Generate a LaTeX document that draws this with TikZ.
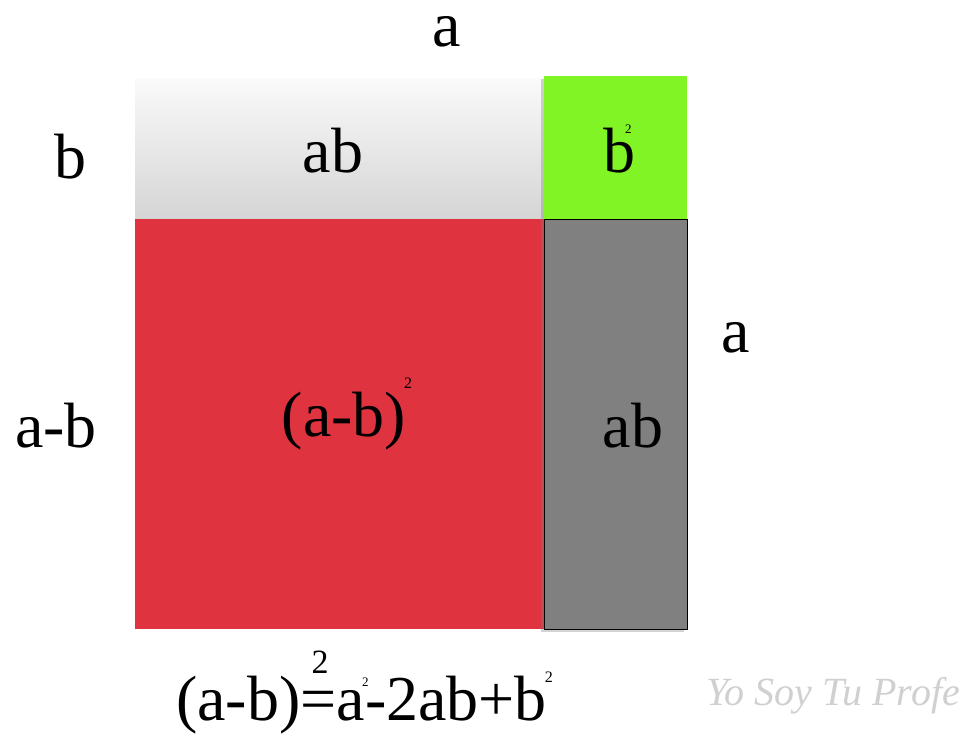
\documentclass[tikz,border=0pt]{standalone}
\usepackage{fontspec}
\setmainfont{Liberation Serif}
\usetikzlibrary{shadows}
\definecolor{minus}{HTML}{DF333F}
\definecolor{square}{HTML}{80F424}
\definecolor{strip}{HTML}{808080}
\definecolor{shadetop}{HTML}{FAFAFA}
\definecolor{shadebot}{HTML}{D5D5D5}
\definecolor{stamp}{HTML}{D0D0D0}
\newcommand{\pw}[2]{\raisebox{#1}{\fontsize{#2}{#2}\selectfont 2}}

\begin{document}
\begin{tikzpicture}[
  x=1pt,y=-1pt,
  font=\fontsize{64}{70}\selectfont,
  cell/.style={draw=none, inner sep=0pt, anchor=north west},
  shade/.style={drop shadow={opacity=0.35, shadow xshift=-3pt, shadow yshift=-3pt}},
  lbl/.style={anchor=base, inner sep=0pt}
]
\useasboundingbox (0,0) rectangle (968,733);

% Boxes
\node[cell, minimum width=409pt, minimum height=141pt,
  top color=shadetop, bottom color=shadebot] (top) at (135,78) {};
\node[cell, fill=minus, minimum width=409pt, minimum height=410pt] (red) at (135,219) {};
\node[cell, shade, fill=square, minimum width=143pt, minimum height=143pt] (green) at (544,76) {};
\node[cell, shade, fill=strip, draw=black, line width=0.8pt,
  minimum width=143pt, minimum height=410pt] (gray) at (544,219) {};

% Side labels
\node[lbl, text height=0.5em] (topa) at (447,47) {a};
\node[lbl] (leftb) at (70,178) {b};
\node[lbl] (leftab) at (56,447) {a-b};
\node[lbl] (righta) at (736,352) {a};

% Areas
\node[lbl] (abtop) at (333,172) {ab};
\node[lbl] (bsq) at (619,172) {b\rlap{\kern-10pt\pw{0.6em}{13}}};
\node[lbl] (diffsq) at (344,436) {(a-b)\rlap{\kern-2pt\pw{0.75em}{16}}};
\node[lbl] (abgray) at (633,447) {ab};

% Formula
\node[anchor=base west, inner sep=0pt] (formula) at (176,720)
  {(a-b)\rlap{\kern11pt\pw{0.73em}{34}}=a\rlap{\kern-3pt\pw{0.52em}{13}}-2ab+b\kern-2pt\pw{0.58em}{16}};
\node[anchor=base, inner sep=0pt, text=stamp, font=\itshape\fontsize{40}{44}\selectfont]
  (stamp) at (833,705) {Yo Soy Tu Profe};

\end{tikzpicture}
\end{document}
